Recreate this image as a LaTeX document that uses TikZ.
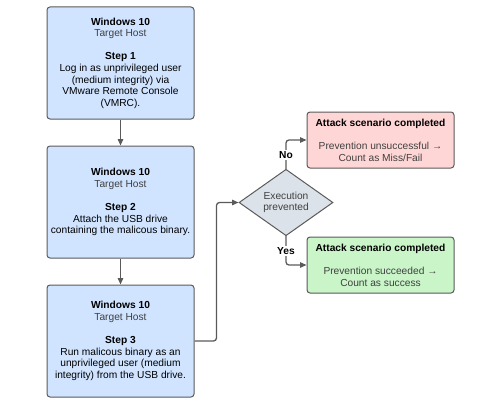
\documentclass[tikz,border=0pt]{standalone}
\usepackage{fontspec}
\setmainfont{Liberation Sans}
\usetikzlibrary{shapes.geometric,arrows.meta}
\definecolor{boxblue}{HTML}{D0E4FF}
\definecolor{boxred}{HTML}{FFD6D6}
\definecolor{boxgreen}{HTML}{C9F5C9}
\definecolor{diagray}{HTML}{DCE2E9}
\definecolor{edge}{HTML}{5A5A5A}
\definecolor{subtext}{HTML}{404040}
\begin{document}
\begin{tikzpicture}[x=1pt,y=-1pt,
  every node/.style={font=\fontsize{10.2}{11.6}\selectfont},
  stepbox/.style={draw=edge,line width=1pt,rounded corners=3pt,fill=boxblue,minimum width=147pt,minimum height=112pt,align=center,inner sep=0pt},
  resbox/.style={draw=edge,line width=1pt,rounded corners=3pt,minimum width=147pt,minimum height=56pt,align=center,inner sep=0pt},
  decide/.style={draw=edge,line width=1pt,diamond,fill=diagray,inner sep=0pt,align=center},
  conn/.style={draw=edge,line width=1.3pt,-{Triangle[length=6.5pt,width=5.5pt]}},
  lbl/.style={fill=white,inner sep=1.5pt,font=\fontsize{10.2}{11.6}\selectfont\bfseries}
]
\useasboundingbox (0,0) rectangle (502,401);
\node[stepbox] (s1) at (120.5,63) {\textbf{Windows 10}\\ \textcolor{subtext}{Target Host}\\[11.6pt] \textbf{Step 1}\\ Log in as unprivileged user\\ (medium integrity) via\\ VMware Remote Console\\ (VMRC).};
\node[stepbox] (s2) at (120.5,202) {\textbf{Windows 10}\\ \textcolor{subtext}{Target Host}\\[11.6pt] \textbf{Step 2}\\ Attach the USB drive\\ containing the malicous binary.};
\node[stepbox] (s3) at (120.5,341) {\textbf{Windows 10}\\ \textcolor{subtext}{Target Host}\\[11.6pt] \textbf{Step 3}\\ Run malicous binary as an\\ unprivileged user (medium\\ integrity) from the USB drive.};
\node[decide,minimum width=94pt,minimum height=59pt] (d) at (286,202.5) {\textcolor{subtext}{Execution}\\ \textcolor{subtext}{prevented}};
\node[resbox,fill=boxred] (r) at (380.5,140) {\textbf{Attack scenario completed}\\[11.6pt] \textcolor{subtext}{Prevention unsuccessful →}\\ \textcolor{subtext}{Count as Miss/Fail}};
\node[resbox,fill=boxgreen] (g) at (380.5,265) {\textbf{Attack scenario completed}\\[11.6pt] \textcolor{subtext}{Prevention succeeded →}\\ \textcolor{subtext}{Count as success}};
\coordinate (c3) at (216.5,341);
\draw[conn] (s1.south) -- (s2.north);
\draw[conn] (s2.south) -- (s3.north);
\draw[conn,rounded corners=3pt] (s3.east) -- (c3) |- (d.west);
\draw[conn,rounded corners=3pt] (d.north) |- (r.west);
\draw[conn,rounded corners=3pt] (d.south) |- (g.west);
\node[lbl] (no) at (286,155) {No};
\node[lbl] (yes) at (286,251) {Yes};
\end{tikzpicture}
\end{document}
